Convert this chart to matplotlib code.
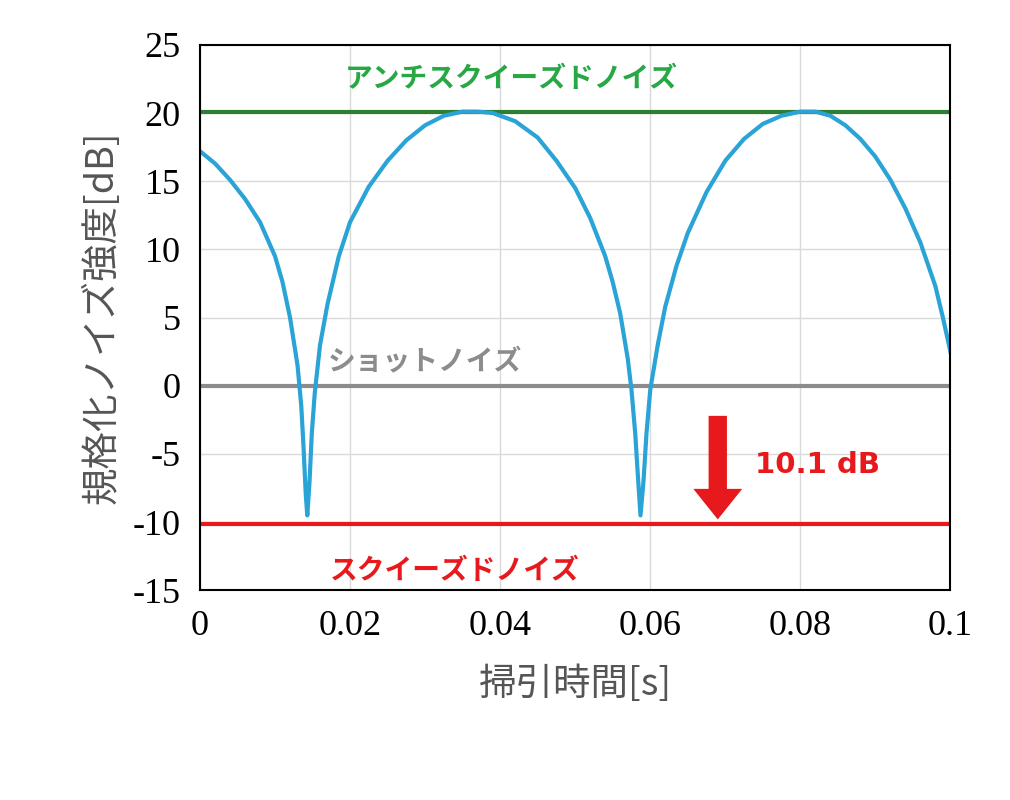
import matplotlib
matplotlib.use("Agg")
import matplotlib.pyplot as plt

plt.rcParams['font.family'] = ['Noto Sans CJK JP', 'DejaVu Sans']
plt.rcParams['axes.unicode_minus'] = False

blue_x = [0, 0.002, 0.004, 0.006, 0.008, 0.010, 0.011, 0.012, 0.013, 0.0135, 0.0138, 0.0141, 0.0143, 0.0146, 0.0149, 0.0153, 0.016, 0.017, 0.0185, 0.020, 0.0225, 0.025, 0.0275, 0.030, 0.0325, 0.035, 0.037, 0.039, 0.042, 0.045, 0.0475, 0.050, 0.052, 0.054, 0.055, 0.056, 0.057, 0.0575, 0.058, 0.0584, 0.0587, 0.0591, 0.0595, 0.060, 0.061, 0.062, 0.0635, 0.065, 0.0675, 0.070, 0.0725, 0.075, 0.0775, 0.080, 0.082, 0.084, 0.086, 0.088, 0.090, 0.092, 0.094, 0.096, 0.098, 0.099, 0.100]
blue_y = [17.2, 16.3, 15.1, 13.7, 12.0, 9.5, 7.6, 5.0, 1.5, -1.5, -4.5, -8.0, -9.5, -7.0, -3.5, -0.5, 3.0, 6.0, 9.5, 12.0, 14.6, 16.5, 18.0, 19.1, 19.8, 20.1, 20.1, 20.0, 19.4, 18.2, 16.5, 14.5, 12.3, 9.5, 7.6, 5.3, 2.0, -0.3, -3.5, -7.0, -9.5, -7.0, -3.5, -0.3, 3.0, 5.8, 8.8, 11.2, 14.2, 16.5, 18.1, 19.2, 19.8, 20.1, 20.1, 19.8, 19.1, 18.1, 16.8, 15.1, 13.0, 10.5, 7.3, 5.0, 2.5]
anti_level = 20.1
shot_level = 0.0
sq_level = -10.1
xticks = [0, 0.02, 0.04, 0.06, 0.08, 0.1]
xticklabels = ['0', '0.02', '0.04', '0.06', '0.08', '0.1']
yticks = list(range(-15, 26, 5))

fig = plt.figure(figsize=(10.1, 8), dpi=100)
ax = fig.add_axes([0.198, 0.262, 0.743, 0.682])
ax.plot([0, 0.1], [anti_level]*2, color='#2e7d32', lw=3)
ax.plot([0, 0.1], [shot_level]*2, color='#8c8c8c', lw=3)
ax.plot([0, 0.1], [sq_level]*2, color='#e8191c', lw=3)
ax.plot(blue_x, blue_y, color='#2aa3d6', lw=3)
ax.set_xlim(0, 0.1)
ax.set_ylim(-15, 25)
ax.set_xticks(xticks)
ax.set_xticklabels(xticklabels)
ax.set_yticks(yticks)
ax.grid(color='#d9d9d9', lw=1)
ax.set_axisbelow(True)
ax.tick_params(length=0, labelsize=26, pad=14)
for lab in ax.get_xticklabels() + ax.get_yticklabels():
    lab.set_family('Liberation Serif')
for s in ax.spines.values():
    s.set_linewidth(1.5)
ax.annotate('', xy=(0.069, -10.0), xytext=(0.069, -2.0),
            arrowprops=dict(arrowstyle='simple,head_width=1.6,head_length=1.0,tail_width=0.6',
                            color='#e8191c', lw=0, mutation_scale=22))
ax.text(0.074, -5.8, '10.1 dB', color='#e8191c', fontsize=21, fontweight='bold', va='center', family='DejaVu Sans')
ax.text(0.0415, 22.5, 'アンチスクイーズドノイズ', color='#27a844', fontsize=20, fontweight='bold', ha='center', va='center')
ax.text(0.017, 1.8, 'ショットノイズ', color='#8c8c8c', fontsize=20, fontweight='bold', ha='left', va='center')
ax.text(0.034, -13.6, 'スクイーズドノイズ', color='#e8191c', fontsize=20, fontweight='bold', ha='center', va='center')
ax.set_ylabel('規格化ノイズ強度[dB]', fontsize=27, color='#555555', labelpad=8)
ax.set_xlabel('掃引時間[s]', fontsize=27, color='#555555', labelpad=16)
fig.savefig('out.png', dpi=100)
